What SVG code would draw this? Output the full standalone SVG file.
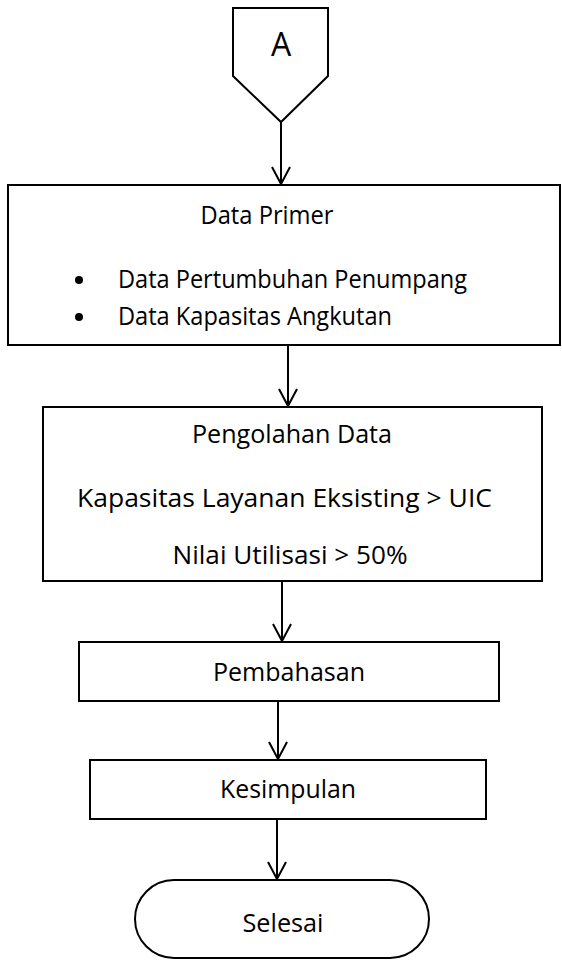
<svg xmlns="http://www.w3.org/2000/svg" width="562" height="964" viewBox="0 0 562 964">
<style>
.s{fill:#fff;stroke:#000;stroke-width:2}
.t{font-family:"Open Sans","Liberation Sans",sans-serif;font-size:25px;fill:#000}
.c{text-anchor:middle}
.e{stroke:#000;stroke-width:2;fill:none}
</style>
<defs>
<marker id="ah" markerWidth="20" markerHeight="20" refX="18" refY="10" orient="auto" markerUnits="userSpaceOnUse" viewBox="0 0 20 20">
<path d="M1,1 L18,10 L1,19" fill="none" stroke="#000" stroke-width="2"/>
</marker>
</defs>
<rect width="562" height="964" fill="#fff"/>
<g id="connectors">
<line class="e" x1="281" y1="122" x2="281" y2="184" marker-end="url(#ah)"/>
<line class="e" x1="288" y1="345" x2="288" y2="406" marker-end="url(#ah)"/>
<line class="e" x1="282" y1="581" x2="282" y2="641" marker-end="url(#ah)"/>
<line class="e" x1="278" y1="701" x2="278" y2="759" marker-end="url(#ah)"/>
<line class="e" x1="277" y1="819" x2="277" y2="879" marker-end="url(#ah)"/>
</g>
<g id="nodeA">
<polygon class="s" points="233,8 328,8 328,76 281,122 233,76"/>
<text class="t c" x="281" y="56" style="font-size:32px">A</text>
</g>
<g id="dataPrimer">
<rect class="s" x="8" y="185" width="552" height="160"/>
<text class="t c" x="267" y="224" textLength="133" lengthAdjust="spacingAndGlyphs">Data Primer</text>
<circle cx="79" cy="280" r="4"/>
<circle cx="79" cy="317" r="4"/>
<text class="t" x="118" y="288" textLength="349" lengthAdjust="spacingAndGlyphs">Data Pertumbuhan Penumpang</text>
<text class="t" x="118" y="325" textLength="274" lengthAdjust="spacingAndGlyphs">Data Kapasitas Angkutan</text>
</g>
<g id="pengolahan">
<rect class="s" x="43" y="407" width="499" height="174"/>
<text class="t c" x="292" y="443" textLength="200" lengthAdjust="spacingAndGlyphs">Pengolahan Data</text>
<text class="t c" x="284.5" y="507" textLength="415" lengthAdjust="spacingAndGlyphs">Kapasitas Layanan Eksisting &gt; UIC</text>
<text class="t c" x="290" y="564" textLength="235" lengthAdjust="spacingAndGlyphs">Nilai Utilisasi &gt; 50%</text>
</g>
<g id="pembahasan">
<rect class="s" x="79" y="642" width="420" height="59"/>
<text class="t c" x="289" y="681" textLength="152" lengthAdjust="spacingAndGlyphs">Pembahasan</text>
</g>
<g id="kesimpulan">
<rect class="s" x="90" y="760" width="396" height="59"/>
<text class="t c" x="288" y="798" textLength="136" lengthAdjust="spacingAndGlyphs">Kesimpulan</text>
</g>
<g id="selesai">
<rect class="s" x="135" y="880" width="294" height="78" rx="39" ry="39"/>
<text class="t c" x="283" y="932" textLength="81" lengthAdjust="spacingAndGlyphs">Selesai</text>
</g>
</svg>
